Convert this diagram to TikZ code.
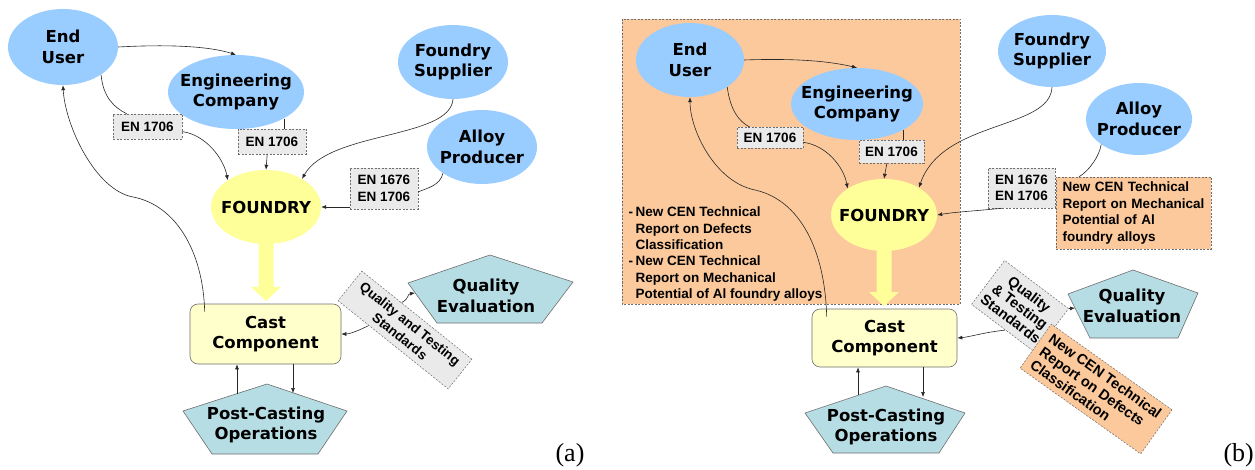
\documentclass[tikz,border=0pt]{standalone}
\usepackage{fontspec}
\setmainfont{DejaVu Sans}
\newfontfamily\tagserif{Liberation Serif}
\newfontfamily\smallsans{Liberation Sans}
\usetikzlibrary{shapes.geometric,arrows.meta,calc}

\definecolor{partyblue}{RGB}{153,204,255}
\definecolor{foundryyellow}{RGB}{255,255,153}
\definecolor{castfill}{RGB}{255,255,204}
\definecolor{pentafill}{RGB}{182,221,228}
\definecolor{tagfill}{RGB}{234,234,234}
\definecolor{notefill}{RGB}{251,201,155}
\definecolor{inkgray}{RGB}{40,40,40}
\definecolor{framegray}{RGB}{110,110,110}

\tikzset{
  ptext/.style={align=center, inner sep=0pt, font=\bfseries\fontsize{16.5}{20.5}\selectfont},
  stext/.style={font=\smallsans\bfseries\fontsize{13.5}{16.4}\selectfont},
  party/.style={ellipse, fill=partyblue, inner sep=0pt},
  hub/.style={ellipse, fill=foundryyellow, inner sep=0pt},
  castbox/.style={rectangle, rounded corners=8pt, draw=framegray, line width=0.6pt,
    fill=castfill, ptext},
  penta/.style={fill=pentafill, draw=framegray, line width=0.6pt},
  enlabel/.style={rectangle, draw=framegray, dash pattern=on 2pt off 1.5pt,
    line width=0.5pt, fill=tagfill, inner sep=0pt, align=center, stext},
  notebox/.style={enlabel, fill=notefill},
  bgpanel/.style={fill=notefill, draw=framegray, dash pattern=on 2pt off 1.5pt, line width=0.5pt},
  bigarrow/.style={fill=foundryyellow},
  conn/.style={draw=inkgray, line width=0.6pt},
  conarr/.style={conn, -{Latex[length=5pt,width=4pt]}},
  panelcap/.style={inner sep=0pt, font=\tagserif\fontsize{26}{28}\selectfont},
}

\begin{document}
\begin{tikzpicture}[x=1pt, y=-1pt]
\useasboundingbox (0,0) rectangle (1255,470);

% ---------------- panel (a) ----------------
\node[party, minimum width=110pt, minimum height=76pt, label={[ptext]center:End\\User}] (eu) at (63,47) {};
\node[party, minimum width=136pt, minimum height=74pt, label={[ptext]center:Engineering\\Company}] (ec) at (236,92) {};
\node[party, minimum width=110pt, minimum height=74pt, label={[ptext]center:Foundry\\Supplier}] (fs) at (453,62) {};
\node[party, minimum width=110pt, minimum height=74pt, label={[ptext]center:Alloy\\Producer}] (ap) at (482,147) {};

\fill[bigarrow] (266,234) -- ++(7.5,0) -- ++(0,53) -- ++(7.5,0) -- ++(-15,14) -- ++(-15,-14) -- ++(7.5,0) -- ++(0,-53) -- cycle;
\node[hub, minimum width=110pt, minimum height=74pt, label={[ptext]center:FOUNDRY}] (fd) at (266,207) {};

\node[castbox, minimum width=151pt, minimum height=60pt] (cc) at (265.5,334) {Cast\\Component};

\filldraw[penta] (267,384) -- (347,411) -- (318,454) -- (212,454) -- (183,411) -- cycle;
\node[ptext] (pa) at (266,425) {Post-Casting\\Operations};
\coordinate (pa-in) at (293,393);
\coordinate (pa-out) at (237,394);

\filldraw[penta] (490,255) -- (573,282) -- (542,323) -- (437,323) -- (408,283) -- cycle;
\node[ptext] (qa) at (486,296) {Quality\\Evaluation};
\coordinate (qa-in) at (415,293);

\node[enlabel, minimum width=69pt, minimum height=25pt] (la1) at (147.5,126.5) {EN 1706};
\node[enlabel, minimum width=68pt, minimum height=25pt] (la2) at (272,141.5) {EN 1706};
\node[enlabel, minimum width=68pt, minimum height=41pt] (la3) at (384,188.5) {EN 1676\\EN 1706};
\node[enlabel, rotate=-38.7, minimum width=141pt, minimum height=38pt] (qs) at (405,330) {Quality and Testing\\Standards};

\draw[conarr] (eu.east) .. controls +(55,-3) and +(-25,-8) .. (ec.north);
\draw[conn] (eu.-36) .. controls +(2,23) and +(-12,-6) .. ($(la1.north west)!0.2!(la1.north east)$);
\draw[conarr] ($(la1.north east)!0.7!(la1.south east)$) .. controls +(23,3) and +(-4,-22) .. (fd.145);
\draw[conn] (ec.-29) -- (ec.-29 |- la2.north);
\draw[conarr] ($(la2.south west)!0.43!(la2.south east)$) -- (fd.north);
\draw[conarr] (fs.south) .. controls +(-3,40) and +(27,-48) .. (fd.38);
\draw[conn] (ap.-146) .. controls +(-3,12) and +(10,-4) .. ($(la3.north east)!0.58!(la3.south east)$);
\draw[conarr] (fd.east -| la3.west) -- (fd.east);
\draw[conarr] ($(cc.north west)+(15,8)$) .. controls (203,250) and (175,205) .. (133,197)
  .. controls (95,190) and (65,125) .. (eu.south);
\draw[conarr] (cc.south -| pa-in) -- (pa-in);
\draw[conarr] (pa-out) -- (pa-out |- cc.south);
\draw[conarr] ($(qs.south west)!0.28!(qs.south east)$) .. controls +(-8,4) and +(9,0) .. (cc.east);
\draw[conarr] ($(qs.north west)!0.36!(qs.north east)$) .. controls +(8,-4) and +(-8,1) .. (qa-in);

\node[panelcap, anchor=base] (capa) at (570,461) {(a)};

% ---------------- panel (b) ----------------
\filldraw[bgpanel] (622,19) rectangle (960,304);

\node[party, minimum width=108pt, minimum height=74pt, label={[ptext]center:End\\User}] (eub) at (690,60) {};
\node[party, minimum width=132pt, minimum height=72pt, label={[ptext]center:Engineering\\Company}] (ecb) at (857,104) {};
\node[party, minimum width=108pt, minimum height=72pt, label={[ptext]center:Foundry\\Supplier}] (fsb) at (1052,51) {};
\node[party, minimum width=106pt, minimum height=72pt, label={[ptext]center:Alloy\\Producer}] (apb) at (1139,119) {};

\fill[bigarrow] (884,241) -- ++(7.5,0) -- ++(0,51) -- ++(7.5,0) -- ++(-15,14) -- ++(-15,-14) -- ++(7.5,0) -- ++(0,-51) -- cycle;
\node[hub, minimum width=106pt, minimum height=72pt, label={[ptext]center:FOUNDRY}] (fdb) at (884,215) {};

\node[inner sep=0pt, anchor=base west, stext] (defs) at (628.5,216.7)
  {\begin{tabular}[t]{@{}l@{\hspace{2.5pt}}l@{}}
   - & New CEN Technical\\
     & Report on Defects\\
     & Classification\\
   - & New CEN Technical\\
     & Report on Mechanical\\
     & Potential of Al foundry alloys
   \end{tabular}};

\node[castbox, minimum width=145pt, minimum height=58pt] (cb) at (884.5,338) {Cast\\Component};

\filldraw[penta] (886,386) -- (965,413) -- (939,453) -- (833,453) -- (805,413) -- cycle;
\node[ptext] (pb) at (886,427) {Post-Casting\\Operations};
\coordinate (pb-in) at (923,397);
\coordinate (pb-out) at (858,395);

\filldraw[penta] (1133,270) -- (1198,293) -- (1178,338) -- (1090,338) -- (1068,294) -- cycle;
\node[ptext] (qb) at (1132,306) {Quality\\Evaluation};
\coordinate (qb-in) at (1075,308);

\node[enlabel, minimum width=66pt, minimum height=21pt] (lb1) at (770,138) {EN 1706};
\node[enlabel, minimum width=65pt, minimum height=23pt] (lb2) at (891.5,151.5) {EN 1706};
\node[enlabel, minimum width=67pt, minimum height=40pt] (lb3) at (1021.5,188) {EN 1676\\EN 1706};
\node[notebox, minimum width=155pt, minimum height=72pt, text width=142pt, inner xsep=6.5pt, align=left] (ntb) at (1133.5,213)
  {New CEN Technical\\Report on Mechanical\\Potential of Al\\foundry alloys};
\node[enlabel, rotate=-37, minimum width=80pt, minimum height=55pt, font=\smallsans\bfseries\fontsize{14.5}{15.5}\selectfont] (qsb) at (1020,306.5) {Quality\\\& Testing\\Standards};
\node[notebox, rotate=-35.4, minimum width=148pt, minimum height=54pt, align=left, font=\smallsans\bfseries\fontsize{14.5}{16}\selectfont] (ndb) at (1096,389) {New CEN Technical\\Report on Defects\\Classification};

\draw[conarr] (eub.east) .. controls +(55,-2) and +(-25,-6) .. (ecb.north);
\draw[conn] (eub.-36) .. controls +(3,22) and +(-12,-6) .. ($(lb1.north west)!0.2!(lb1.north east)$);
\draw[conarr] ($(lb1.north east)!0.7!(lb1.south east)$) .. controls +(23,3) and +(-4,-22) .. (fdb.144);
\draw[conn] (ecb.-29) -- (ecb.-29 |- lb2.north);
\draw[conarr] ($(lb2.south west)!0.43!(lb2.south east)$) -- (fdb.north);
\draw[conarr] (fsb.south) .. controls +(-2,43) and +(23,-68) .. (fdb.38);
\draw[conn] (apb.-146) .. controls +(-2,12) and +(10,-6) .. ($(ntb.north west)!0.15!(ntb.north east)$);
\draw[conarr] ($(lb3.south west)!0.21!(lb3.south east)$) .. controls +(-30,3) and +(18,-3) .. (fdb.east);
\draw[conarr] ($(cb.north west)+(15,8)$) .. controls (825,250) and (800,200) .. (755,190)
  .. controls (715,182) and (690,130) .. (eub.south);
\draw[conarr] (cb.south -| pb-in) -- (pb-in);
\draw[conarr] (pb-out) -- (pb-out |- cb.south);
\draw[conarr] ($(qsb.south west)!0.53!(qsb.south east)$) .. controls +(-20,2) and +(12,-1) .. (cb.east);
\draw[conarr] (qsb.north east) -- (qb-in);

\node[panelcap, anchor=base east] (capb) at (1254,461) {(b)};
\end{tikzpicture}
\end{document}
